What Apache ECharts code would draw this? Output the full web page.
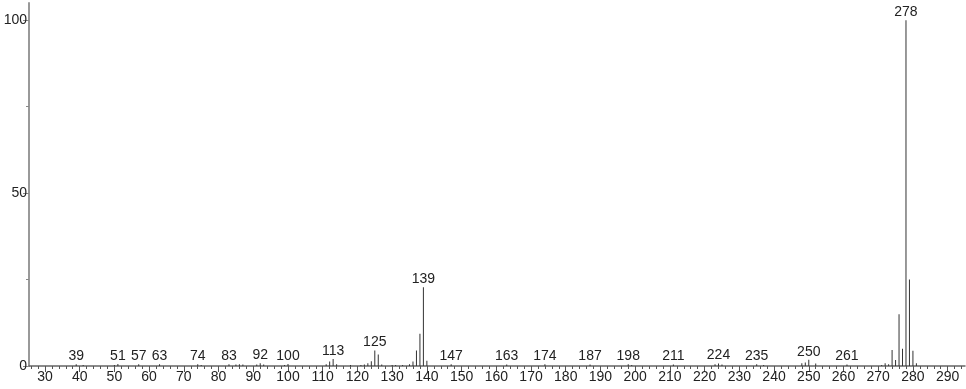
<!DOCTYPE html>
<html>
<head>
<meta charset="utf-8">
<script src="https://cdn.jsdelivr.net/npm/echarts@6/dist/echarts.min.js"></script>
<style>html,body{margin:0;padding:0;background:#fff}#c{width:966px;height:389px}</style>
</head>
<body>
<div id="c"></div>
<script>
const masses = [39,41,50,51,57,63,74,75,83,85,86,87,91,92,93,99,100,111,112,113,114,118,121,122,123,124,125,126,127,130,131,133,135,136,137,138,139,140,147,163,174,187,198,199,211,223,224,225,235,237,248,249,250,252,261,271,272,273,274,275,276,277,278,279,280,281];
const intensities = [0.5,0.3,0.3,0.6,0.5,0.5,0.5,0.3,0.5,0.4,0.5,0.4,0.4,0.8,0.4,0.3,0.6,0.5,1.3,2.0,0.5,0.3,0.3,0.4,0.8,1.4,4.5,3.3,0.4,0.3,0.3,0.3,0.5,1.3,4.5,9.3,22.8,1.5,0.5,0.4,0.5,0.4,0.5,0.3,0.4,0.5,0.7,0.4,0.5,0.3,0.8,1.0,1.8,0.7,0.4,0.3,0.8,0.5,4.6,1.7,15,5,100,25,4.4,0.8];
const labeledMasses = [39,51,57,63,74,83,92,100,113,125,139,147,163,174,187,198,211,224,235,250,261,278];
const xMajorTicks = [30,40,50,60,70,80,90,100,110,120,130,140,150,160,170,180,190,200,210,220,230,240,250,260,270,280,290];
const yMajorTicks = [0,50,100];
const yMinorTicks = [25,75];

const xMinorTicks = [];
for (let v = 26; v <= 294; v += 2) if (v % 10 !== 0) xMinorTicks.push(v);

const font = '"Liberation Sans", Arial, sans-serif';
const data = masses.map((m, i) => {
  const item = { value: [m, intensities[i]] };
  if (labeledMasses.includes(m)) {
    item.label = { show: true, position: 'top', distance: 1, formatter: String(m),
      color: '#222', fontSize: 14, fontFamily: font };
  }
  return item;
});

const chart = echarts.init(document.getElementById('c'), null, { renderer: 'canvas' });
chart.setOption({
  animation: false,
  backgroundColor: '#fff',
  grid: { left: 29, right: 1, top: 3, bottom: 23, containLabel: false },
  xAxis: [
    { type: 'value', min: 25.4, max: 295, position: 'bottom',
      axisLine: { show: true, onZero: false, lineStyle: { color: '#666', width: 1.5 } },
      axisTick: { show: true, customValues: xMajorTicks, length: 6, lineStyle: { color: '#555' } },
      axisLabel: { show: true, customValues: xMajorTicks, margin: 4, color: '#222', fontSize: 14, fontFamily: font },
      splitLine: { show: false } },
    { type: 'value', min: 25.4, max: 295, position: 'bottom',
      axisLine: { show: false, onZero: false },
      axisTick: { show: true, customValues: xMinorTicks, length: 3, lineStyle: { color: '#555' } },
      axisLabel: { show: false },
      splitLine: { show: false } }
  ],
  yAxis: [
    { type: 'value', min: 0, max: 105, position: 'left',
      axisLine: { show: true, lineStyle: { color: '#999', width: 2 } },
      axisTick: { show: true, customValues: yMajorTicks, length: 6, lineStyle: { color: '#888' } },
      axisLabel: { show: true, customValues: yMajorTicks, margin: 2, color: '#222', fontSize: 14, fontFamily: font },
      splitLine: { show: false } },
    { type: 'value', min: 0, max: 105, position: 'left',
      axisLine: { show: false },
      axisTick: { show: true, customValues: yMinorTicks, length: 3, lineStyle: { color: '#888' } },
      axisLabel: { show: false },
      splitLine: { show: false } }
  ],
  series: [{
    type: 'bar', xAxisIndex: 0, yAxisIndex: 0,
    barWidth: 1, barGap: '-100%',
    itemStyle: { color: '#333' },
    data: data
  }]
});
</script>
</body>
</html>
